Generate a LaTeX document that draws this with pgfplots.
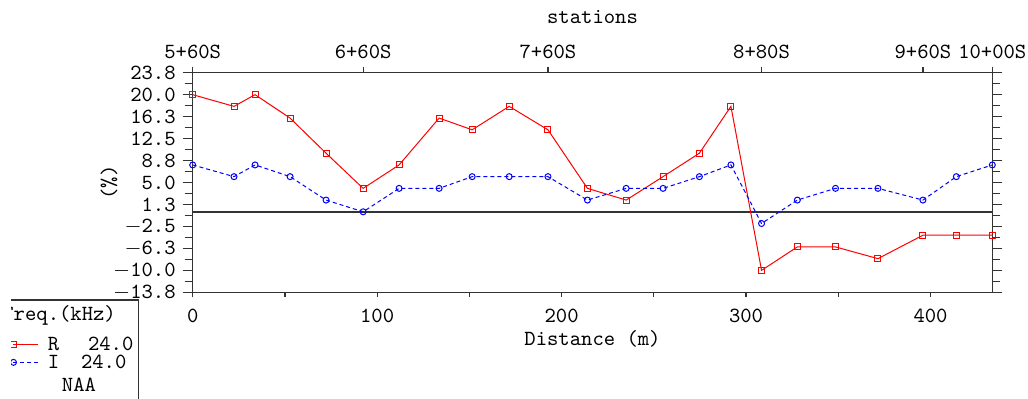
\documentclass[border=0pt]{standalone}
\usepackage{pgfplots}
\pgfplotsset{compat=1.18}
\newcommand\ff{\fontsize{10.8}{13}\selectfont\ttfamily}
\pgfplotstableread{
x R I
0 20 8
22.4 18 6
33.8 20 8
52.8 16 6
72.3 10 2
92.4 4 0
111.9 8 4
133.6 16 4
151.5 14 6
171.6 18 6
192.6 14 6
214 4 2
235 2 4
255 6 4
274.7 10 6
291.8 18 8
308.4 -10 -2
327.8 -6 2
348.5 -6 4
371.5 -8 4
395.9 -4 2
414 -4 6
433.5 -4 8
}\datatable
\pgfplotsset{
  common/.style={
    at={(96.35pt,52.85pt)}, anchor=south west, scale only axis,
    width=399.8pt, height=109.8pt,
    xmin=0, xmax=433.5, ymin=-13.75, ymax=23.75,
    axis line style={black!80, line width=0.75pt},
    tick style={black!80, line width=0.6pt},
    tick align=outside,
    tick label style={font=\ff},
    label style={font=\ff},
    title style={font=\ff},
  }
}
\begin{document}
\begin{tikzpicture}[font=\ff]
\begin{scope}[x=0.5pt,y=0.5pt]
\useasboundingbox (0,0) rectangle (1028,398);
\end{scope}
\begin{scope}
\clip (5.5pt,0pt) rectangle (514pt,199pt);
% main axis
\begin{axis}[common,
  xtick=\empty,
  ytick={-13.75,-10,-6.25,-2.5,1.25,5,8.75,12.5,16.25,20,23.75},
  yticklabels={$-$13.8,$-$10.0,$-$6.3,$-$2.5,1.3,5.0,8.8,12.5,16.3,20.0,23.8},
  minor y tick num=1,
  major tick length=5pt, minor tick length=4pt,
  yticklabel pos=left,
  ylabel={(\%)},
  ylabel style={at={(axis description cs:-0.1047,0.5)}, anchor=center},
  legend style={at={(axis description cs:-0.2285,-0.278)}, anchor=west,
    draw=none, fill=none, inner sep=0pt, outer sep=0pt, row sep=2.5pt,
    column sep=0pt, font=\ff, cells={anchor=west},
    nodes={inner sep=0pt, outer sep=0pt, text height=6pt, text depth=0pt, anchor=west}},
  legend image code/.code={
    \path (-1.5pt,-3pt) (17pt,3pt);
    \draw[mark repeat=2, mark phase=1, #1] plot coordinates {(0pt,0pt) (12.5pt,0pt)};},
  legend cell align=left,
]
\addplot[black!80, line width=0.75pt, forget plot] coordinates {(0,0) (433.5,0)};
\addplot[red, line width=0.5pt, mark=square, mark size=1.5pt, mark options={solid}]
  table[x=x, y=R] {\datatable};
\addlegendentry{R\hspace{14.35pt}24.0}
\addplot[blue, line width=0.5pt, dash pattern=on 2pt off 1.5pt, mark=o, mark size=1.5pt, mark options={solid}]
  table[x=x, y=I] {\datatable};
\addlegendentry{I\hspace{10.85pt}24.0}
\end{axis}
% bottom axis
\begin{axis}[common,
  axis x line*=bottom, hide y axis,
  xtick={0,100,200,300,400}, minor x tick num=1,
  xticklabels={0,100,200,300,400},
  xticklabel style={yshift=-2.5pt},
  major tick length=2.5pt, minor tick length=2.5pt,
  xlabel={Distance (m)},
  xlabel style={at={(axis description cs:0.5,-0.2127)}, anchor=center},
]
\addplot[draw=none] coordinates {(0,0)};
\end{axis}
% top axis
\begin{axis}[common,
  axis x line*=top, hide y axis,
  xtick={0,92.4,192.6,308.4,395.9,433.5},
  xticklabels={5+60S,6+60S,7+60S,8+80S,9+60S,10+00S},
  xticklabel style={yshift=0.5pt},
  major tick length=3pt,
  title={stations},
  title style={at={(axis description cs:0.5,1.199)}, anchor=center},
]
\addplot[draw=none] coordinates {(0,0)};
\end{axis}
\begin{scope}[x=0.5pt,y=0.5pt]
\draw[black!80, line width=0.6pt] (0,98) -- (138.3,98) -- (138.3,-5);
\node[anchor=west, inner sep=0pt] at (2,83) {Freq.(kHz)};
\node[inner sep=0pt] at (79,13) {NAA};
\end{scope}
\end{scope}
\end{tikzpicture}
\end{document}
